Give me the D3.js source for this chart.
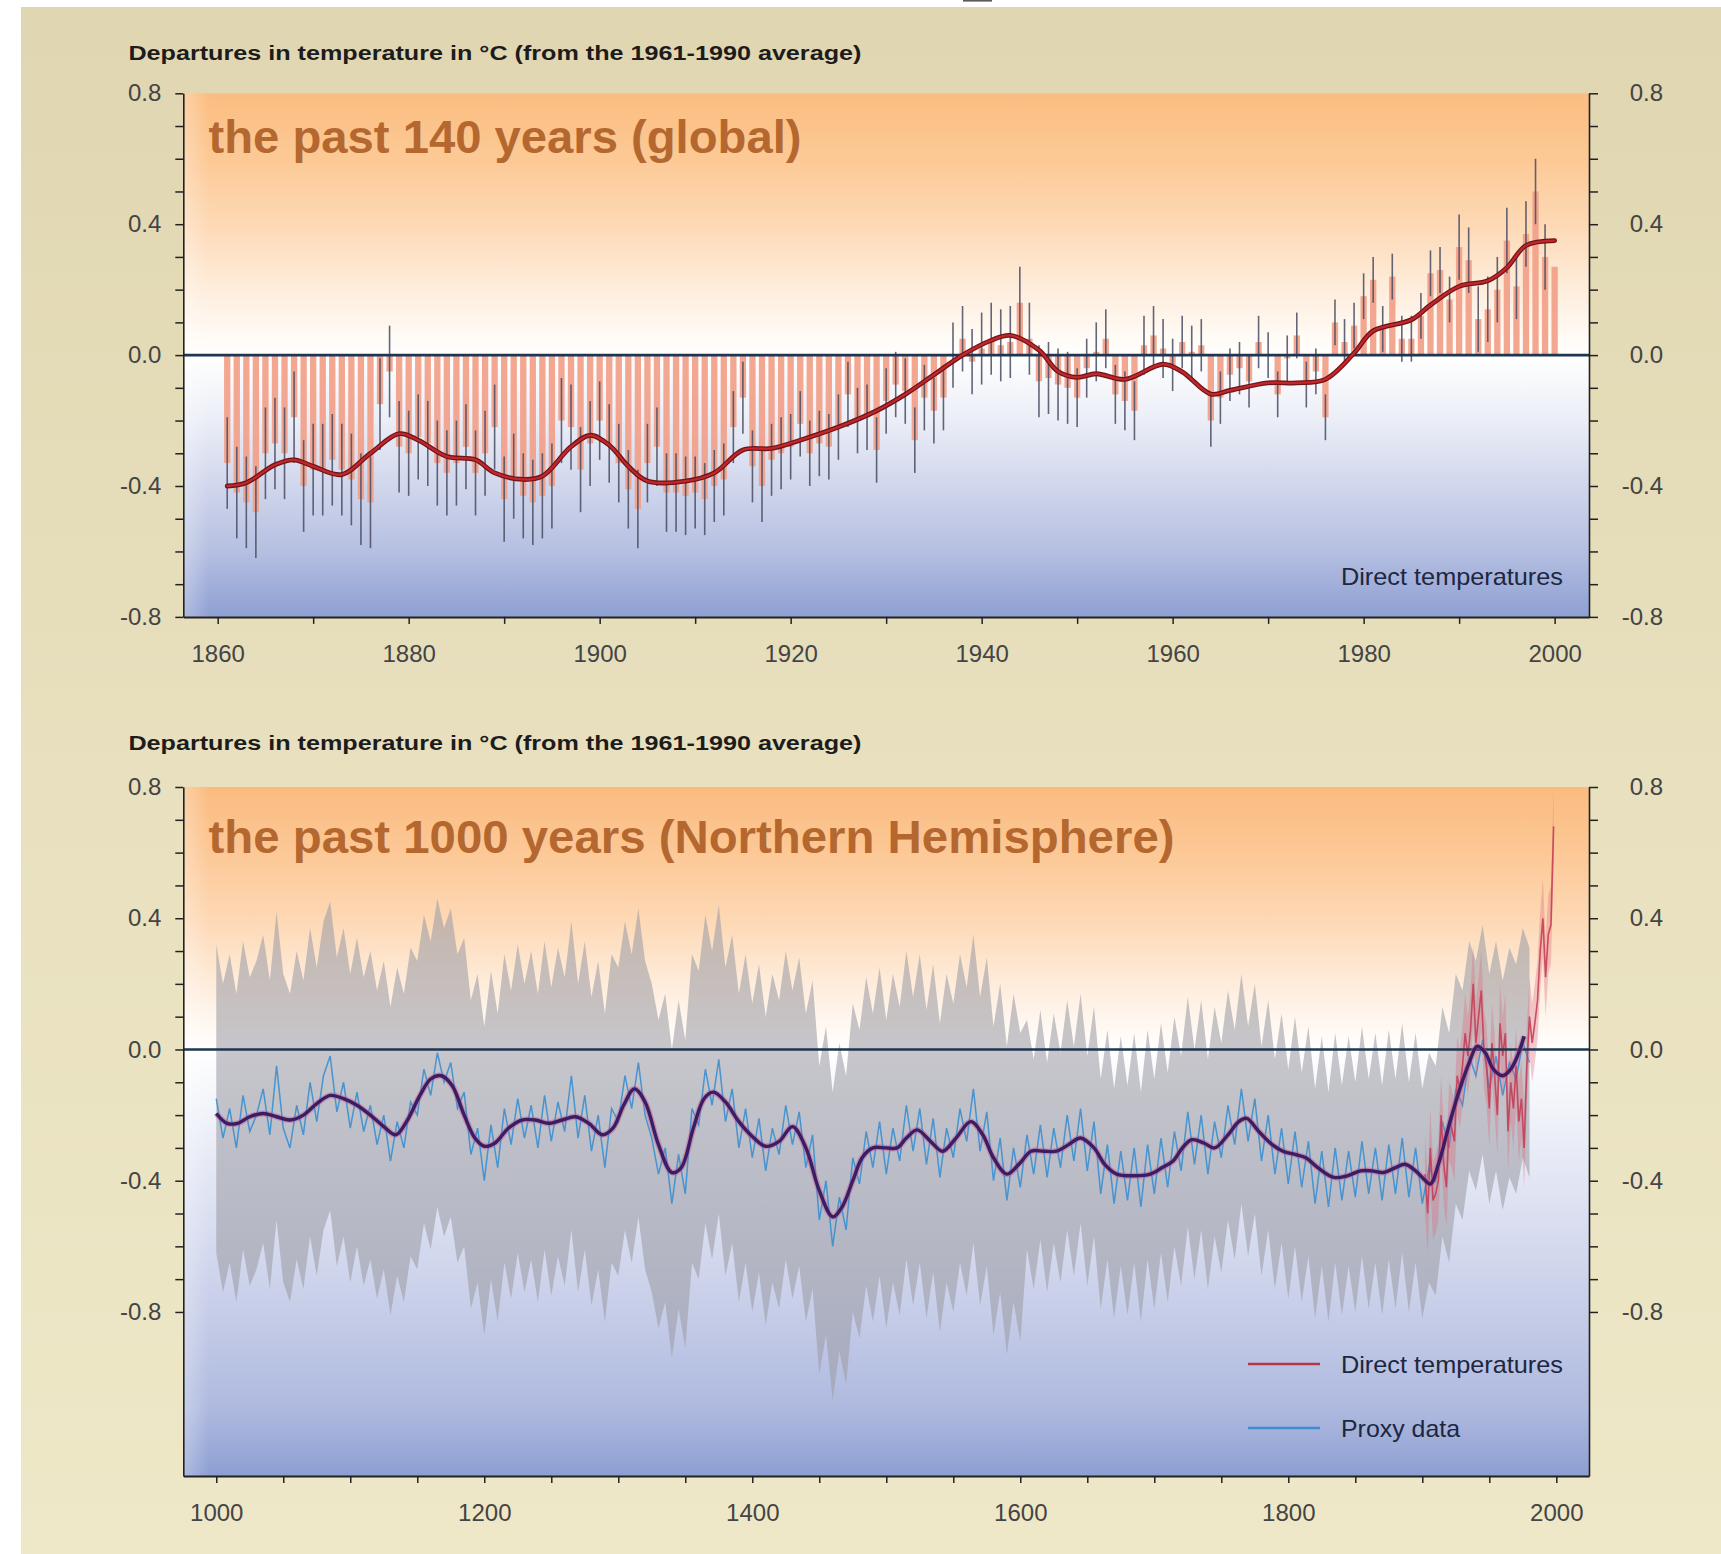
<!DOCTYPE html>
<html><head><meta charset="utf-8">
<script src="https://cdn.jsdelivr.net/npm/d3@7"></script>
<style>
body{margin:0;background:#fff}
svg{display:block}
text{font-family:"Liberation Sans",Arial,Helvetica,sans-serif}
</style>
</head><body>
<svg id="c" width="1721" height="1554"></svg>
<script>
// ---------------- DATA ----------------
// Top panel: global annual anomalies 1861-2000 (°C, vs 1961-1990)
const topFirstYear = 1861;
const topAnnual = [
 -0.33,-0.42,-0.45,-0.48,-0.30,-0.27,-0.30,-0.19,-0.40,-0.35,
 -0.35,-0.32,-0.35,-0.38,-0.44,-0.45,-0.15,-0.05,-0.28,-0.30,
 -0.25,-0.27,-0.33,-0.36,-0.33,-0.28,-0.36,-0.30,-0.22,-0.44,
 -0.37,-0.43,-0.45,-0.43,-0.40,-0.20,-0.22,-0.35,-0.27,-0.20,
 -0.27,-0.33,-0.41,-0.47,-0.33,-0.28,-0.42,-0.42,-0.43,-0.42,
 -0.44,-0.40,-0.38,-0.22,-0.13,-0.34,-0.40,-0.32,-0.30,-0.28,
 -0.21,-0.30,-0.27,-0.28,-0.22,-0.12,-0.20,-0.19,-0.29,-0.14,
 -0.09,-0.11,-0.26,-0.13,-0.17,-0.13,0.00,0.05,-0.02,0.02,
 0.05,0.03,0.04,0.16,0.05,-0.08,-0.07,-0.09,-0.10,-0.13,
 -0.04,0.01,0.05,-0.12,-0.14,-0.17,0.03,0.06,0.02,-0.03,
 0.04,0.01,0.03,-0.20,-0.13,-0.06,-0.04,-0.08,0.04,0.00,
 -0.12,-0.01,0.06,-0.09,-0.05,-0.19,0.10,0.04,0.09,0.18,
 0.23,0.08,0.24,0.05,0.05,0.12,0.25,0.26,0.17,0.33,
 0.29,0.11,0.14,0.20,0.35,0.21,0.37,0.50,0.30,0.27
];
// half-width of the 95% range, per decade (1860s ... 1990s)
const topErrDecades = [1860,1870,1880,1890,1900,1910,1920,1930,1940,1950,1960,1970,1980,1990];
const topErrValues  = [0.14,0.14,0.13,0.13,0.12,0.11,0.10,0.10,0.11,0.09,0.08,0.07,0.07,0.10];
// smoothed curve
const topSmoothYears = [1861,1863,1866,1868,1870,1873,1876,1879,1881,1884,1887,1889,1892,1894,1897,1899,1901,1903,1905,1909,1912,1915,1918,1921,1925,1929,1932,1935,1938,1941,1943,1946,1948,1950,1952,1955,1959,1961,1964,1966,1970,1973,1976,1979,1981,1985,1987,1990,1993,1995,1997,2000];
const topSmoothValues = [-0.40,-0.39,-0.335,-0.32,-0.34,-0.365,-0.30,-0.24,-0.26,-0.31,-0.32,-0.36,-0.38,-0.37,-0.28,-0.245,-0.275,-0.34,-0.385,-0.385,-0.36,-0.29,-0.285,-0.26,-0.22,-0.17,-0.12,-0.06,0.00,0.045,0.06,0.015,-0.05,-0.068,-0.057,-0.074,-0.028,-0.051,-0.119,-0.108,-0.085,-0.085,-0.074,0.006,0.074,0.108,0.153,0.21,0.227,0.267,0.335,0.35];

// Bottom panel: NH proxy reconstruction, 5-year samples 1000-1980
const proxyFirstYear = 1000, proxyStep = 5;
const proxyValues = [
 -0.15,-0.27,-0.18,-0.30,-0.14,-0.25,-0.20,-0.12,-0.26,-0.05,
 -0.24,-0.30,-0.17,-0.26,-0.10,-0.22,-0.08,-0.02,-0.19,-0.10,
 -0.24,-0.13,-0.25,-0.17,-0.29,-0.20,-0.34,-0.22,-0.30,-0.16,
 -0.20,-0.06,-0.14,-0.01,-0.10,-0.04,-0.18,-0.13,-0.32,-0.24,
 -0.40,-0.23,-0.36,-0.18,-0.29,-0.15,-0.27,-0.17,-0.30,-0.14,
 -0.28,-0.16,-0.25,-0.08,-0.27,-0.14,-0.31,-0.20,-0.36,-0.18,
 -0.22,-0.08,-0.18,-0.04,-0.20,-0.27,-0.38,-0.30,-0.47,-0.32,
 -0.44,-0.18,-0.23,-0.06,-0.17,-0.03,-0.22,-0.12,-0.30,-0.18,
 -0.33,-0.21,-0.37,-0.24,-0.32,-0.17,-0.29,-0.19,-0.36,-0.26,
 -0.52,-0.40,-0.60,-0.45,-0.55,-0.33,-0.41,-0.25,-0.36,-0.22,
 -0.38,-0.24,-0.34,-0.17,-0.31,-0.18,-0.35,-0.21,-0.39,-0.24,
 -0.33,-0.18,-0.28,-0.12,-0.31,-0.19,-0.40,-0.27,-0.46,-0.30,
 -0.42,-0.26,-0.38,-0.23,-0.39,-0.24,-0.36,-0.20,-0.34,-0.18,
 -0.37,-0.22,-0.44,-0.29,-0.47,-0.31,-0.46,-0.30,-0.48,-0.29,
 -0.44,-0.27,-0.42,-0.25,-0.37,-0.19,-0.35,-0.20,-0.38,-0.22,
 -0.33,-0.17,-0.29,-0.12,-0.28,-0.15,-0.34,-0.20,-0.38,-0.24,
 -0.41,-0.25,-0.42,-0.28,-0.47,-0.31,-0.48,-0.30,-0.46,-0.31,
 -0.45,-0.28,-0.44,-0.30,-0.46,-0.29,-0.44,-0.27,-0.45,-0.30,
 -0.47,-0.36,-0.40,-0.22,-0.30,-0.12,-0.17,-0.02,-0.08,0.03,
 -0.12,-0.02,-0.14,-0.04,-0.09,0.02,-0.04
];
// uncertainty (2 sigma) half-width of the grey range, per period
const bandPeriodStart = [1000,1600];
const bandPeriodEnd   = [1600,1980];
const bandHalfWidth   = [0.47,0.35];
// 40-year smoothed NH series
const nhSmoothYears = [1000,1008,1016,1025,1035,1045,1055,1065,1075,1085,1095,1105,1115,1125,1134,1142,1152,1160,1168,1176,1185,1193,1200,1208,1218,1228,1238,1248,1258,1268,1278,1288,1296,1304,1312,1320,1330,1340,1347,1356,1364,1371,1380,1390,1400,1410,1420,1430,1440,1450,1460,1467,1475,1482,1490,1500,1508,1515,1523,1533,1542,1552,1563,1572,1580,1590,1600,1608,1618,1627,1636,1645,1655,1663,1672,1685,1697,1706,1714,1721,1728,1737,1745,1755,1763,1769,1778,1788,1796,1805,1813,1822,1834,1844,1854,1862,1871,1880,1887,1895,1900,1906,1912,1920,1928,1935,1941,1947,1953,1960,1966,1971,1976];
const nhSmoothValues = [-0.195,-0.225,-0.225,-0.205,-0.195,-0.205,-0.215,-0.20,-0.165,-0.14,-0.15,-0.17,-0.20,-0.235,-0.26,-0.22,-0.14,-0.09,-0.08,-0.11,-0.20,-0.27,-0.295,-0.285,-0.24,-0.215,-0.215,-0.225,-0.215,-0.205,-0.225,-0.26,-0.24,-0.17,-0.12,-0.16,-0.29,-0.375,-0.36,-0.24,-0.15,-0.13,-0.16,-0.22,-0.265,-0.295,-0.28,-0.235,-0.30,-0.43,-0.51,-0.48,-0.40,-0.33,-0.30,-0.30,-0.30,-0.27,-0.245,-0.28,-0.31,-0.27,-0.22,-0.26,-0.33,-0.38,-0.345,-0.31,-0.31,-0.31,-0.29,-0.27,-0.30,-0.35,-0.38,-0.385,-0.38,-0.36,-0.34,-0.30,-0.275,-0.285,-0.30,-0.26,-0.22,-0.21,-0.25,-0.29,-0.31,-0.32,-0.33,-0.36,-0.39,-0.385,-0.37,-0.37,-0.375,-0.36,-0.35,-0.37,-0.39,-0.41,-0.35,-0.23,-0.12,-0.04,0.01,-0.01,-0.06,-0.08,-0.06,-0.02,0.04];
// NH direct (instrumental) temperatures, 2-year samples 1902-1998
const directYears = [1902,1904,1906,1908,1910,1912,1914,1916,1918,1920,1922,1924,1926,1928,1930,1932,1934,1936,1938,1940,1942,1944,1946,1948,1950,1952,1954,1956,1958,1960,1962,1964,1966,1968,1970,1972,1974,1976,1978,1980,1982,1984,1986,1988,1990,1992,1994,1996,1998];
const directValues = [-0.38,-0.50,-0.30,-0.46,-0.44,-0.40,-0.20,-0.35,-0.42,-0.22,-0.24,-0.28,-0.08,-0.12,-0.05,0.05,-0.02,0.06,0.20,0.02,0.10,0.18,0.00,-0.05,-0.18,0.02,-0.08,-0.20,0.08,-0.02,0.05,-0.25,-0.10,-0.18,-0.05,-0.22,-0.15,-0.30,-0.05,0.10,0.02,0.08,0.15,0.30,0.40,0.22,0.35,0.38,0.68];
const directHalfWidth = 0.12;

// Ticks and labels
const yTickValues = [0.8,0.7,0.6,0.5,0.4,0.3,0.2,0.1,0,-0.1,-0.2,-0.3,-0.4,-0.5,-0.6,-0.7,-0.8];
const yTickLabels = {"0.8":"0.8","0.4":"0.4","0":"0.0","-0.4":"-0.4","-0.8":"-0.8"};
const topXTicks = [1860,1870,1880,1890,1900,1910,1920,1930,1940,1950,1960,1970,1980,1990,2000];
const topXLabels = [1860,1880,1900,1920,1940,1960,1980,2000];
const botXTicks = [1000,1050,1100,1150,1200,1250,1300,1350,1400,1450,1500,1550,1600,1650,1700,1750,1800,1850,1900,1950,2000];
const botXLabels = [1000,1200,1400,1600,1800,2000];
const axisTitle = "Departures in temperature in °C (from the 1961-1990 average)";
const topTitle = "the past 140 years (global)";
const botTitle = "the past 1000 years (Northern Hemisphere)";
const legendLabels = ["Direct temperatures","Proxy data"];

// ---------------- DRAW ----------------
const svg = d3.select("#c");
const defs = svg.append("defs");

const L = 183.3, R = 1589;
const xT = d3.scaleLinear().domain([1856.4, 2003.6]).range([L, R]);
const yT = d3.scaleLinear().domain([-0.8, 0.8]).range([616.9, 93.3]);
const xB = d3.scaleLinear().domain([975.4, 2024.4]).range([L, R]);
const yB = d3.scaleLinear().domain([-1.3, 0.8]).range([1476, 787]);

// page background
const bg = defs.append("linearGradient").attr("id","beige").attr("x1",0).attr("y1",0).attr("x2",0).attr("y2",1);
bg.append("stop").attr("offset",0).attr("stop-color","#e0d6b1");
bg.append("stop").attr("offset",0.5).attr("stop-color","#e8e0be");
bg.append("stop").attr("offset",1).attr("stop-color","#eee8c8");
svg.append("rect").attr("x",0).attr("y",0).attr("width",1721).attr("height",1554).attr("fill","#fff");
svg.append("rect").attr("x",21).attr("y",7).attr("width",1700).attr("height",1547).attr("fill","url(#beige)");
svg.append("rect").attr("x",963).attr("y",0).attr("width",29).attr("height",1.6).attr("fill","#5a5a5a");

function plotGradient(id, y, stops){
  const g = defs.append("linearGradient").attr("id",id).attr("gradientUnits","userSpaceOnUse")
    .attr("x1",0).attr("x2",0).attr("y1",y.range()[1]).attr("y2",y.range()[0]);
  const y0 = y.range()[1], y1 = y.range()[0];
  stops.forEach(([v,c]) => g.append("stop").attr("offset",(y(v)-y0)/(y1-y0)).attr("stop-color",c));
}
plotGradient("gTop", yT, [[0.8,"#fbbd80"],[0.6,"#fcc995"],[0.4,"#fdd9b5"],[0.2,"#feeddc"],[0.04,"#fffcf8"],[0,"#ffffff"],[-0.2,"#ebeef7"],[-0.4,"#d0d6ec"],[-0.6,"#b5bfe1"],[-0.8,"#8e9fd3"]]);
plotGradient("gBot", yB, [[0.8,"#fbbb7f"],[0.6,"#fcc896"],[0.4,"#fdd8b4"],[0.2,"#feecdb"],[0.04,"#fffbf7"],[0,"#ffffff"],[-0.4,"#e2e6f4"],[-0.8,"#c6cde8"],[-1.1,"#aeb9df"],[-1.3,"#8d9ed2"]]);
const fade = defs.append("linearGradient").attr("id","fade").attr("x1",0).attr("x2",1).attr("y1",0).attr("y2",0);
fade.append("stop").attr("offset",0).attr("stop-color","#fff").attr("stop-opacity",0.3);
fade.append("stop").attr("offset",1).attr("stop-color","#fff").attr("stop-opacity",0);

const yFmt = v => { const k = String(Math.round(v*10)/10); return yTickLabels[k] !== undefined ? yTickLabels[k] : ""; };

function styleAxis(g){
  g.select(".domain").attr("stroke","#222").attr("stroke-width",1.6);
  g.selectAll(".tick line").attr("stroke","#222").attr("stroke-width",1.5);
  g.selectAll("text").attr("font-size",24).attr("fill","#444").attr("font-family","'Liberation Sans',Arial,sans-serif");
}

function yAxes(y){
  const gl = svg.append("g").attr("transform",`translate(${L},0)`)
    .call(d3.axisLeft(y).tickValues(yTickValues).tickSize(8).tickSizeOuter(0).tickPadding(14).tickFormat(yFmt));
  styleAxis(gl);
  const gr = svg.append("g").attr("transform",`translate(${R},0)`)
    .call(d3.axisRight(y).tickValues(yTickValues).tickSize(9).tickSizeOuter(0).tickFormat(yFmt));
  styleAxis(gr);
  gr.selectAll("text").attr("text-anchor","end").attr("x",74);
}

function xAxis(x, yPos, ticks, labels){
  const g = svg.append("g").attr("transform",`translate(0,${yPos})`)
    .call(d3.axisBottom(x).tickValues(ticks).tickSize(7).tickSizeOuter(0).tickPadding(21)
      .tickFormat(d => labels.includes(d) ? String(d) : ""));
  styleAxis(g);
  g.select(".domain").attr("stroke-width",2);
}

// ============ TOP PANEL ============
svg.append("rect").attr("x",L).attr("y",yT(0.8)).attr("width",R-L).attr("height",yT(-0.8)-yT(0.8)).attr("fill","url(#gTop)");
svg.append("rect").attr("x",L).attr("y",yT(0.8)).attr("width",26).attr("height",yT(-0.8)-yT(0.8)).attr("fill","url(#fade)");

const topData = topAnnual.map((v,i) => {
  const yr = topFirstYear + i;
  const di = topErrDecades.indexOf(Math.floor(yr/10)*10);
  return {yr, v, e: topErrValues[di]};
});
const bw = (xT(1861)-xT(1860))*0.66;
svg.append("g").selectAll("rect").data(topData).join("rect")
  .attr("x",d => xT(d.yr)-bw/2).attr("width",bw)
  .attr("y",d => Math.min(yT(d.v),yT(0))).attr("height",d => Math.abs(yT(d.v)-yT(0)))
  .attr("fill","#f29f88").attr("opacity",0.92);
svg.append("g").selectAll("line").data(topData).join("line")
  .attr("x1",d => xT(d.yr)).attr("x2",d => xT(d.yr))
  .attr("y1",d => yT(d.v - d.e)).attr("y2",d => yT(d.v + d.e))
  .attr("stroke","#4a4c62").attr("stroke-width",1.6).attr("opacity",0.85);

svg.append("line").attr("x1",L).attr("x2",R).attr("y1",yT(0)).attr("y2",yT(0)).attr("stroke","#1f3550").attr("stroke-width",2.6);

const topSmooth = topSmoothYears.map((y,i)=>[y, topSmoothValues[i]]);
const lineT = d3.line().x(d=>xT(d[0])).y(d=>yT(d[1])).curve(d3.curveCatmullRom.alpha(0.5));
svg.append("path").attr("d",lineT(topSmooth)).attr("fill","none").attr("stroke","#6e1418").attr("stroke-width",4.8).attr("stroke-linecap","round");
svg.append("path").attr("d",lineT(topSmooth)).attr("fill","none").attr("stroke","#c3262b").attr("stroke-width",2.3).attr("stroke-linecap","round");

yAxes(yT);
xAxis(xT, yT(-0.8), topXTicks, topXLabels);

svg.append("text").attr("x",128.4).attr("y",59.5).attr("font-size",20).attr("font-weight","bold").attr("fill","#1c1c1c")
  .attr("textLength",733).attr("lengthAdjust","spacingAndGlyphs").text(axisTitle);
svg.append("text").attr("x",208.5).attr("y",153).attr("font-size",46).attr("font-weight","bold").attr("fill","#b4682f")
  .attr("textLength",593).attr("lengthAdjust","spacingAndGlyphs").text(topTitle);
svg.append("text").attr("x",1341).attr("y",585).attr("font-size",24).attr("fill","#1d2740")
  .attr("textLength",222).attr("lengthAdjust","spacingAndGlyphs").text(legendLabels[0]);

// ============ BOTTOM PANEL ============
svg.append("rect").attr("x",L).attr("y",yB(0.8)).attr("width",R-L).attr("height",yB(-1.3)-yB(0.8)).attr("fill","url(#gBot)");
svg.append("rect").attr("x",L).attr("y",yB(0.8)).attr("width",26).attr("height",yB(-1.3)-yB(0.8)).attr("fill","url(#fade)");

const proxy = proxyValues.map((v,i)=>{
  const yr = proxyFirstYear + i*proxyStep;
  let k = bandPeriodStart.findIndex((s,j)=> yr>=s && yr<=bandPeriodEnd[j]);
  return {yr, v, w: bandHalfWidth[k]};
});
const area = d3.area().x(d=>xB(d.yr)).y0(d=>yB(d.v-d.w)).y1(d=>yB(d.v+d.w));
svg.append("path").attr("d",area(proxy)).attr("fill","#9c9ca6").attr("opacity",0.58);

const lineB = d3.line().x(d=>xB(d[0])).y(d=>yB(d[1]));
svg.append("path").attr("d",lineB(proxy.map(d=>[d.yr,d.v]))).attr("fill","none").attr("stroke","#3a8fd2").attr("stroke-width",1.5).attr("opacity",0.9);

const direct = directYears.map((y,i)=>[y,directValues[i]]);
const dArea = d3.area().x(d=>xB(d[0])).y0(d=>yB(d[1]-directHalfWidth)).y1(d=>yB(d[1]+directHalfWidth));
svg.append("path").attr("d",dArea(direct)).attr("fill","#dd6a7c").attr("opacity",0.35);
svg.append("path").attr("d",lineB(direct)).attr("fill","none").attr("stroke","#c23a55").attr("stroke-width",1.6).attr("opacity",0.85);

svg.append("line").attr("x1",L).attr("x2",R).attr("y1",yB(0)).attr("y2",yB(0)).attr("stroke","#1f3550").attr("stroke-width",2.6);

const nhSmooth = nhSmoothYears.map((y,i)=>[y,nhSmoothValues[i]]);
const lineS = d3.line().x(d=>xB(d[0])).y(d=>yB(d[1])).curve(d3.curveCatmullRom.alpha(0.5));
svg.append("path").attr("d",lineS(nhSmooth)).attr("fill","none").attr("stroke","#c6508e").attr("stroke-width",6).attr("opacity",0.45);
svg.append("path").attr("d",lineS(nhSmooth)).attr("fill","none").attr("stroke","#3a1d63").attr("stroke-width",3.4);

yAxes(yB);
xAxis(xB, yB(-1.3), botXTicks, botXLabels);

svg.append("text").attr("x",128.4).attr("y",749.5).attr("font-size",20).attr("font-weight","bold").attr("fill","#1c1c1c")
  .attr("textLength",733).attr("lengthAdjust","spacingAndGlyphs").text(axisTitle);
svg.append("text").attr("x",208.5).attr("y",853).attr("font-size",47).attr("font-weight","bold").attr("fill","#b4682f")
  .attr("textLength",966).attr("lengthAdjust","spacingAndGlyphs").text(botTitle);

// legend
const legY = [1364, 1428];
const legColors = ["#b8344c","#3c90d2"];
legY.forEach((y,i)=>{
  svg.append("line").attr("x1",1248).attr("x2",1320).attr("y1",y).attr("y2",y).attr("stroke",legColors[i]).attr("stroke-width",2.4);
  svg.append("text").attr("x",1341).attr("y",y+8.5).attr("font-size",24).attr("fill","#1d2740")
    .attr("textLength", i===0 ? 222 : 119).attr("lengthAdjust","spacingAndGlyphs").text(legendLabels[i]);
});
</script>
</body></html>
